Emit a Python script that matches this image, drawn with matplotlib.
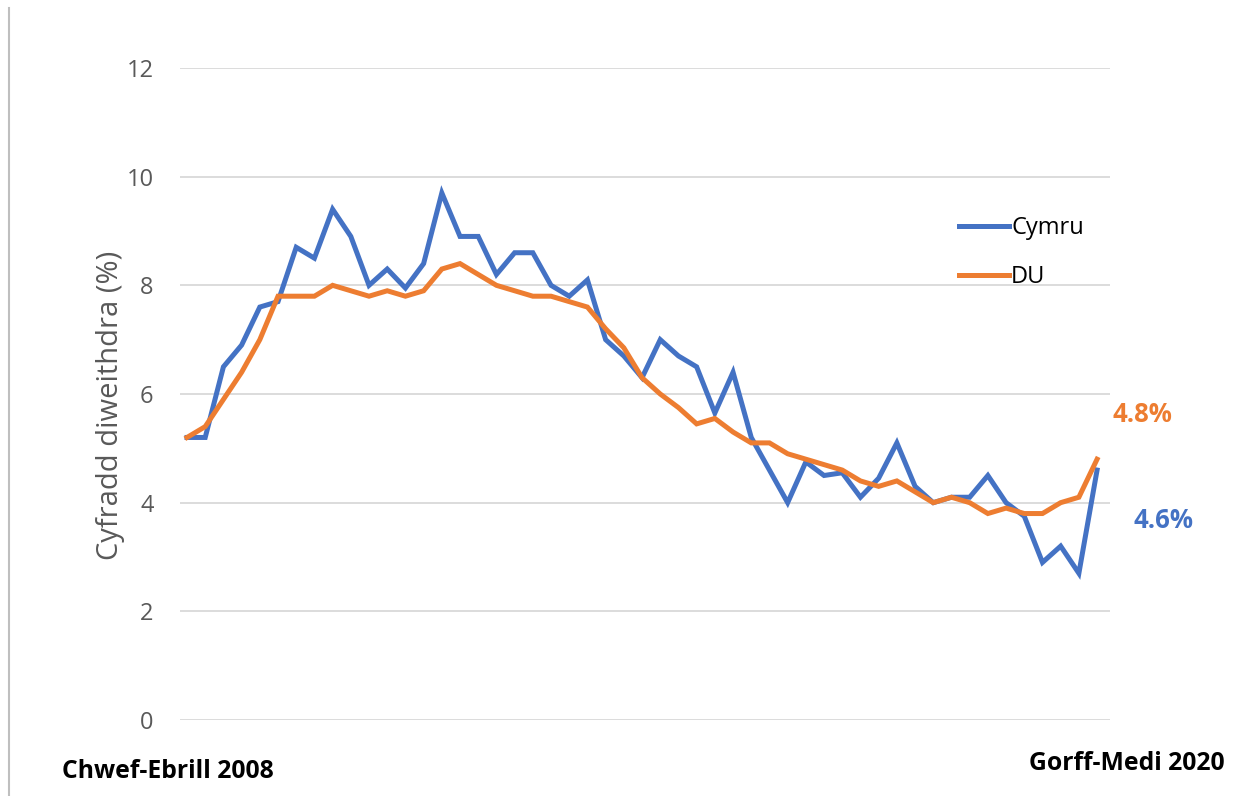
import matplotlib
matplotlib.use("Agg")
import matplotlib.pyplot as plt
import numpy as np

plt.rcParams['font.family'] = ['Open Sans', 'DejaVu Sans']

# chwarter wrth chwarter, Chwef-Ebrill 2008 .. Gorff-Medi 2020
cymru = [5.2, 5.2, 6.5, 6.9, 7.6, 7.7, 8.7, 8.5, 9.4, 8.9,
         8.0, 8.3, 7.95, 8.4, 9.7, 8.9, 8.9, 8.2, 8.6, 8.6,
         8.0, 7.8, 8.1, 7.0, 6.7, 6.3, 7.0, 6.7, 6.5, 5.65,
         6.4, 5.2, 4.6, 4.0, 4.75, 4.5, 4.55, 4.1, 4.45, 5.1,
         4.3, 4.0, 4.1, 4.1, 4.5, 4.0, 3.75, 2.9, 3.2, 2.7, 4.6]
du = [5.2, 5.4, 5.9, 6.4, 7.0, 7.8, 7.8, 7.8, 8.0, 7.9,
      7.8, 7.9, 7.8, 7.9, 8.3, 8.4, 8.2, 8.0, 7.9, 7.8,
      7.8, 7.7, 7.6, 7.2, 6.85, 6.3, 6.0, 5.75, 5.45, 5.55,
      5.3, 5.1, 5.1, 4.9, 4.8, 4.7, 4.6, 4.4, 4.3, 4.4,
      4.2, 4.0, 4.1, 4.0, 3.8, 3.9, 3.8, 3.8, 4.0, 4.1, 4.8]
yticks = [0, 2, 4, 6, 8, 10, 12]
first_label = "Chwef-Ebrill 2008"
last_label = "Gorff-Medi 2020"

blue = "#4472C4"
orange = "#ED7D31"

W, H = 1233, 796
fig = plt.figure(figsize=(W / 100, H / 100), dpi=100)
ax = fig.add_axes([180 / W, 1 - 720 / H, 930 / W, 652 / H])

x = np.arange(len(cymru))
ax.plot(x, cymru, color=blue, lw=3.6, label="Cymru", solid_joinstyle="miter", zorder=3)
ax.plot(x, du, color=orange, lw=3.6, label="DU", solid_joinstyle="miter", zorder=4)

ax.set_xlim(-0.385, 50.71)
ax.set_ylim(0, 12)
ax.set_yticks(yticks)
ax.set_xticks([])
ax.grid(axis="y", color="#d9d9d9", lw=1.3)
ax.set_axisbelow(True)
for s in ax.spines.values():
    s.set_visible(False)
ax.tick_params(axis="y", length=0, pad=19, labelsize=17, labelcolor="#595959")
ax.set_ylabel("Cyfradd diweithdra (%)", fontsize=21, color="#595959")
ax.yaxis.set_label_coords(-55 / 930, 0.483)

leg = ax.legend(loc="upper left", bbox_to_anchor=(758 / 930, 1 - 127 / 652),
                frameon=False, fontsize=17, handlelength=2.1, handletextpad=0.1,
                labelspacing=1.05)

ax.annotate("4.8%", xy=(1142 / W, 1 - 414 / H), xycoords="figure fraction",
            ha="center", va="center", fontsize=18.5, fontweight="bold", color=orange)
ax.annotate("4.6%", xy=(1163 / W, 1 - 521 / H), xycoords="figure fraction",
            ha="center", va="center", fontsize=18.5, fontweight="bold", color=blue)

fig.text(62 / W, 1 - 772 / H, first_label, ha="left", va="center",
         fontsize=17.8, fontweight="bold", color="black")
fig.text(1225 / W, 1 - 764 / H, last_label, ha="right", va="center",
         fontsize=17.8, fontweight="bold", color="black")

# ffin chwith
fig.add_artist(plt.Line2D([9 / W, 9 / W], [0, 1 - 8 / H], color="#bfbfbf", lw=1.5))

fig.savefig("out.png", dpi=100, facecolor="white")
